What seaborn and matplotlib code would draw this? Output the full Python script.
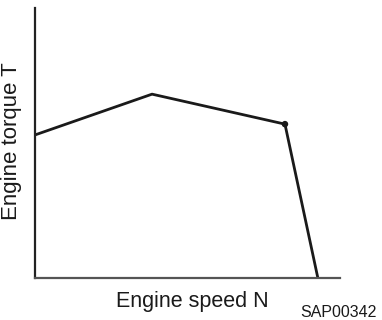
import pandas as pd
import matplotlib.pyplot as plt
import seaborn as sns

# Характеристика двигателя (относительные единицы)
speed = [0, 38.4, 82.0, 92.8]
torque = [53.0, 68.1, 57.0, 0.0]
marked_point = 2  # точка с маркером

df = pd.DataFrame({'speed': speed, 'torque': torque})

sns.set_theme(style="white")
plt.rcParams['font.family'] = ['Liberation Sans', 'DejaVu Sans']

fig = plt.figure(figsize=(3.82, 3.2), dpi=100)
ax = fig.add_axes([0.0916, 0.131, 0.798, 0.844])

sns.lineplot(data=df, x='speed', y='torque', color='#1a1a1a', linewidth=2.0, ax=ax)
sns.scatterplot(x=[speed[marked_point]], y=[torque[marked_point]], color='#1a1a1a',
                s=22, edgecolor='none', ax=ax, zorder=5)

ax.set_xlim(0, 100)
ax.set_ylim(0, 100)
ax.set_xticks([])
ax.set_yticks([])
ax.set_xlabel('')
ax.set_ylabel('')
for side in ['top', 'right']:
    ax.spines[side].set_visible(False)
ax.spines['left'].set_color('#222222')
ax.spines['left'].set_linewidth(1.6)
ax.spines['bottom'].set_color('#555555')
ax.spines['bottom'].set_linewidth(1.6)

fig.text(0.504, 0.041, 'Engine speed N', ha='center', va='baseline', fontsize=15.5, color='#1a1a1a')
fig.text(0.03, 0.559, 'Engine torque T', ha='center', va='center', rotation=90,
         fontsize=16, color='#1a1a1a')
fig.text(0.985, 0.01, 'SAP00342', ha='right', va='baseline', fontsize=11.5, color='#1a1a1a')

fig.savefig('out.png', dpi=100)
